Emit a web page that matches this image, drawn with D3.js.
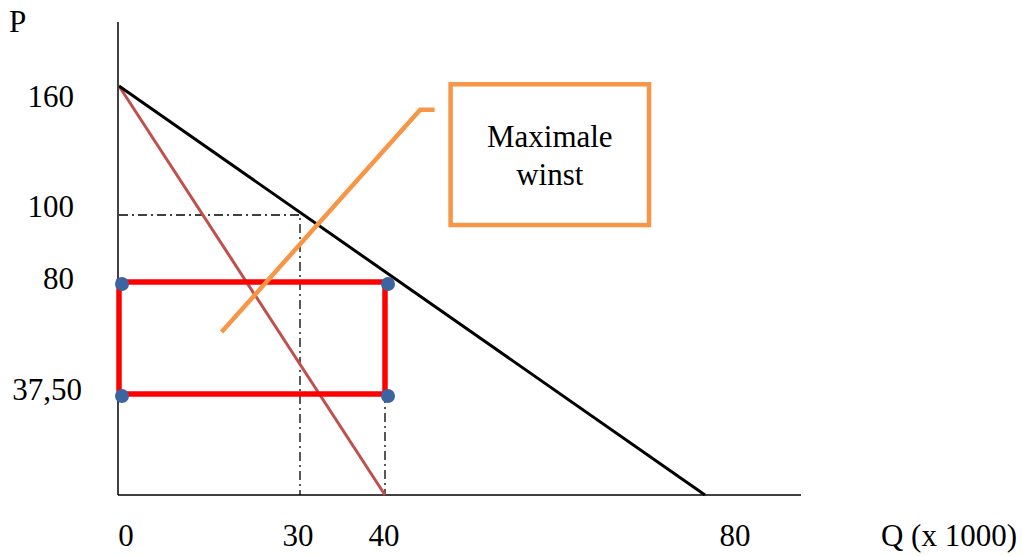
<!DOCTYPE html>
<html>
<head>
<meta charset="utf-8">
<script src="https://cdn.jsdelivr.net/npm/d3@7"></script>
<style>
  html, body { margin: 0; padding: 0; background: #fff; }
  svg { display: block; }
  text { font-family: "Liberation Serif", "Times New Roman", serif; fill: #000; }
</style>
</head>
<body>
<svg id="chart" width="1023" height="556"></svg>
<script>
// Monopoly: demand, marginal revenue and the profit-maximising rectangle
const xTicks = [0, 30, 40, 80];
const yTicks = [160, 100, 80, 37.5];
const yTickLabels = ["160", "100", "80", "37,50"];

const demand = [[0, 160], [80, 0]];          // P = 160 - 2Q
const marginalRevenue = [[0, 160], [40, 0]]; // MR = 160 - 4Q
const optimum = { q: 40, p: 80, mrQ: 30, mrP: 100, avgCost: 37.5 };
const profitBox = [[0, 80], [40, 80], [40, 37.5], [0, 37.5]];
const corners = [[0, 80], [40, 80], [0, 37.5], [40, 37.5]];

const calloutText = ["Maximale", "winst"];
const calloutLeader = [[17, 61], [44.4, 149], [46.2, 149]];
const calloutBox = { q0: 48.2, q1: 73, p0: 97, p1: 160.8 };

const svg = d3.select("#chart");
const fontSize = 31;

// Hand-drawn axes: piecewise-linear scales following the sketch spacing
const x = d3.scaleLinear().domain([0, 30, 40, 80]).range([119, 300, 385, 705]);
const y = d3.scaleLinear().domain([0, 37.5, 80, 100, 160]).range([495, 394, 282, 215, 86]);

const line = d3.line().x(d => x(d[0])).y(d => y(d[1]));

// axes
svg.append("line").attr("x1", 118).attr("x2", 118).attr("y1", 22).attr("y2", y(0))
  .attr("stroke", "#000").attr("stroke-width", 1.5);
svg.append("line").attr("x1", 118).attr("x2", 801).attr("y1", y(0)).attr("y2", y(0))
  .attr("stroke", "#000").attr("stroke-width", 1.5);

svg.append("text").attr("x", 9).attr("y", 32).attr("font-size", fontSize).text("P");
svg.append("text").attr("x", 949).attr("y", 546).attr("text-anchor", "middle")
  .attr("font-size", fontSize).text("Q (x 1000)");

// tick labels (nudged the way the sketch places them)
const xNudge = { 0: 7, 30: -2, 40: -1, 80: 30 };
svg.selectAll(".xt").data(xTicks).join("text").attr("class", "xt")
  .attr("x", d => x(d) + xNudge[d]).attr("y", 546)
  .attr("text-anchor", "middle").attr("font-size", fontSize).text(d => d);

const yNudge = { 160: 11, 100: -8, 80: -3, 37.5: -4 };
const yRight = { 160: 74, 100: 74, 80: 74, 37.5: 82 };
svg.selectAll(".yt").data(yTicks).join("text").attr("class", "yt")
  .attr("x", d => yRight[d]).attr("y", d => y(d) + yNudge[d] + 10)
  .attr("text-anchor", "end").attr("font-size", fontSize)
  .text((d, i) => yTickLabels[i]);

// dash-dot guide lines
const dashStyle = sel => sel.attr("fill", "none").attr("stroke", "#000")
  .attr("stroke-width", 1.3).attr("stroke-dasharray", "9,4,2,4");
svg.append("path").call(dashStyle)
  .attr("d", line([[0, optimum.mrP], [optimum.mrQ, optimum.mrP], [optimum.mrQ, 0]]));
svg.append("path").call(dashStyle)
  .attr("d", line([[optimum.q, optimum.avgCost], [optimum.q, 0]]));

// demand and marginal revenue
svg.append("path").attr("d", line(marginalRevenue)).attr("fill", "none")
  .attr("stroke", "#C0504D").attr("stroke-width", 3);
svg.append("path").attr("d", line(demand)).attr("fill", "none")
  .attr("stroke", "#000").attr("stroke-width", 3);

// profit rectangle
svg.append("path").attr("d", line(profitBox) + "Z").attr("fill", "none")
  .attr("stroke", "#FF0000").attr("stroke-width", 5.5).attr("stroke-linejoin", "miter");

// callout
svg.append("path").attr("d", line(calloutLeader)).attr("fill", "none")
  .attr("stroke", "#F79646").attr("stroke-width", 4.5);
svg.append("rect")
  .attr("x", x(calloutBox.q0)).attr("y", y(calloutBox.p1))
  .attr("width", x(calloutBox.q1) - x(calloutBox.q0))
  .attr("height", y(calloutBox.p0) - y(calloutBox.p1))
  .attr("fill", "#fff").attr("stroke", "#F79646").attr("stroke-width", 4.5);
const cx = (x(calloutBox.q0) + x(calloutBox.q1)) / 2;
svg.selectAll(".ct").data(calloutText).join("text").attr("class", "ct")
  .attr("x", cx).attr("y", (d, i) => 147 + i * 38)
  .attr("text-anchor", "middle").attr("font-size", fontSize).text(d => d);

// corner markers
svg.selectAll(".dot").data(corners).join("circle").attr("class", "dot")
  .attr("cx", d => x(d[0]) + 3).attr("cy", d => y(d[1]) + 2).attr("r", 7)
  .attr("fill", "#3B64A0");
</script>
</body>
</html>
